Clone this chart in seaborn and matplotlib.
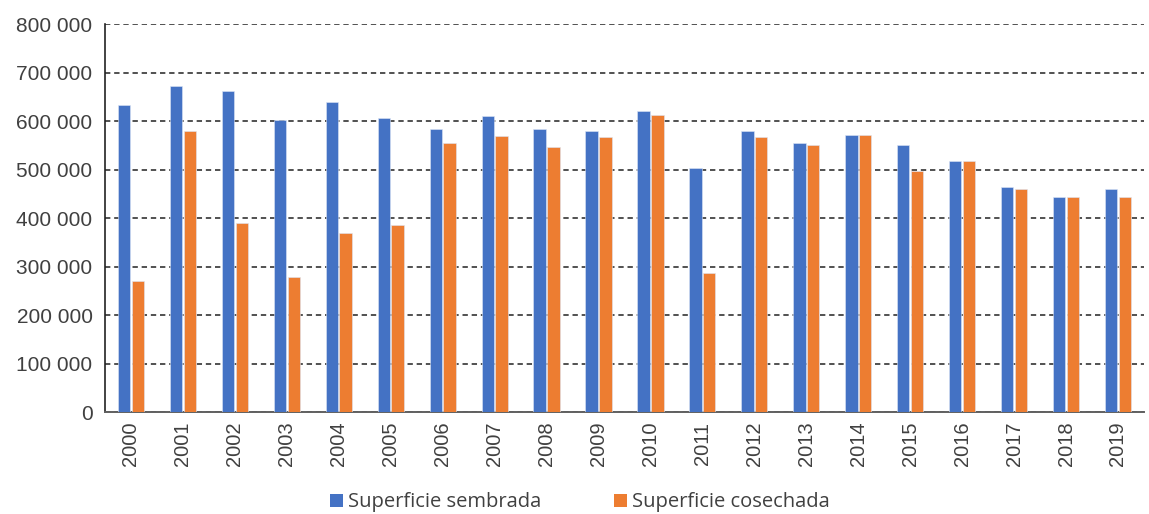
import pandas as pd
import matplotlib
matplotlib.use("Agg")
import matplotlib.pyplot as plt
from matplotlib.patches import Patch
from matplotlib.ticker import FuncFormatter, FixedLocator
import seaborn as sns

# Superficie sembrada / cosechada por año
years = [str(y) for y in range(2000, 2020)]
sembrada = [632000, 673000, 661000, 603000, 640000, 607000, 583000, 611000, 583000, 579000,
            620000, 504000, 579000, 554000, 571000, 550000, 517000, 463000, 443000, 459000]
cosechada = [271000, 579000, 389000, 278000, 369000, 386000, 554000, 570000, 546000, 566000,
             612000, 287000, 566000, 550000, 571000, 496000, 517000, 459000, 443000, 443000]
series_names = ["Superficie sembrada", "Superficie cosechada"]
colors = ["#4472C4", "#ED7D31"]

df = pd.DataFrame({
    "year": years * 2,
    "value": sembrada + cosechada,
    "serie": [series_names[0]] * len(years) + [series_names[1]] * len(years),
})

sns.set_style("white")
plt.rcParams["font.family"] = ["Liberation Sans", "DejaVu Sans"]
text_color = "#404040"

fig = plt.figure(figsize=(11.49, 5.14), dpi=100)
ax = fig.add_axes([0.0914, 0.1984, 0.9042, 0.7549])

sns.barplot(data=df, x="year", y="value", hue="serie", palette=colors,
            width=0.53, gap=0.1, saturation=1, legend=False, ax=ax, zorder=3,
            edgecolor="#dde6f5", linewidth=0.4)

ax.set_xlim(-0.5, len(years) - 0.5)
ax.set_ylim(0, 800000)
ax.set_yticks(range(0, 800001, 100000))
ax.yaxis.set_major_formatter(FuncFormatter(lambda v, p: f"{int(v):,}".replace(",", " ")))

# category boundaries as ticks, labels in the middle
ax.xaxis.set_major_locator(FixedLocator([i - 0.5 for i in range(len(years) + 1)]))
ax.xaxis.set_minor_locator(FixedLocator(list(range(len(years)))))
ax.set_xticklabels([], minor=False)
ax.set_xticklabels(years, minor=True, rotation=90)
ax.tick_params(axis="x", which="major", length=6, width=1.2, color="#404040", direction="out")
ax.tick_params(axis="x", which="minor", length=0, pad=7, labelsize=14.5, labelcolor=text_color)
ax.tick_params(axis="y", length=6, width=1.2, color="#222222", direction="out",
               labelsize=15, labelcolor=text_color, pad=3)

ax.grid(axis="y", color="#222222", linestyle=(0, (3.5, 2.5)), linewidth=1.1, zorder=0)
ax.set_axisbelow(True)
ax.set_xlabel("")
ax.set_ylabel("")
for s in ["top", "right"]:
    ax.spines[s].set_visible(False)
ax.spines["left"].set_color("#222222")
ax.spines["left"].set_linewidth(1.2)
ax.spines["bottom"].set_color("#606060")
ax.spines["bottom"].set_linewidth(1.4)

handles = [Patch(facecolor=c, edgecolor="none") for c in colors]
fig.legend(handles, series_names, loc="lower center", bbox_to_anchor=(0.505, -0.032), ncol=2,
           frameon=False, handlelength=0.65, handleheight=0.65, handletextpad=0.25,
           columnspacing=3.6, prop={"family": ["Open Sans", "DejaVu Sans"], "size": 14.5},
           labelcolor=text_color)

fig.savefig("out.png", dpi=100)
